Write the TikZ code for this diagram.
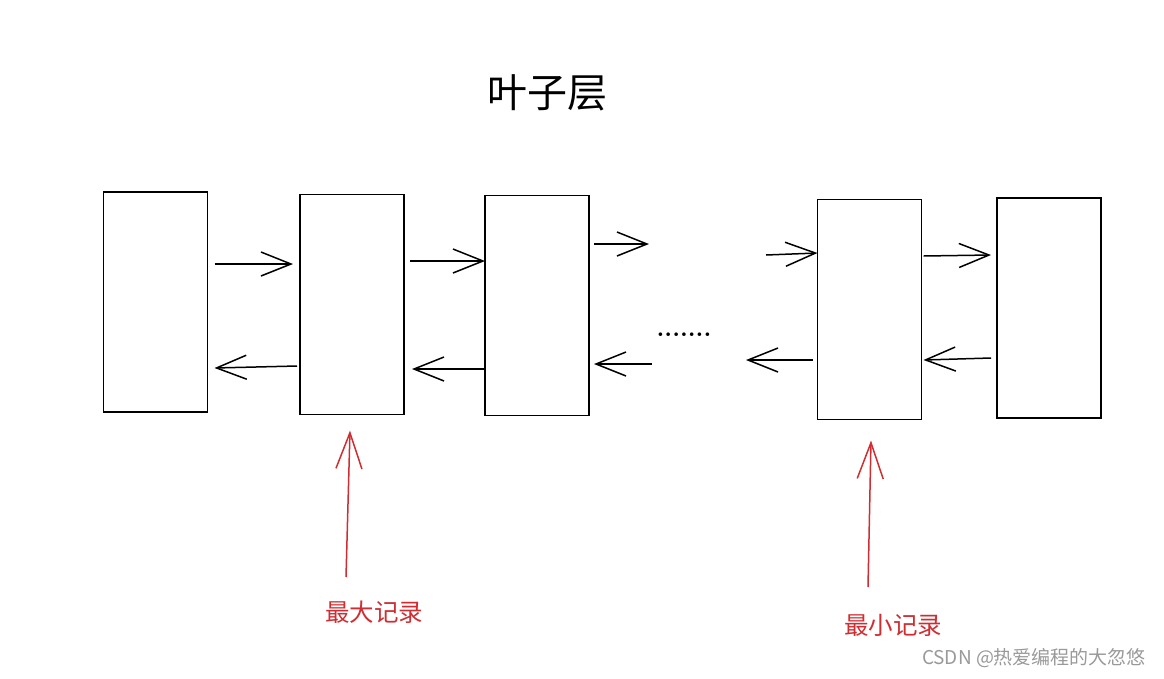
\documentclass[tikz,border=0pt]{standalone}
\usepackage{fontspec}
\newfontfamily\cjk{Noto Sans CJK SC}
\usetikzlibrary{arrows.meta}
\definecolor{notered}{RGB}{207,45,50}

\begin{document}
\begin{tikzpicture}[x=1pt, y=-1pt,
    page/.style={draw, line width=1.7pt, inner sep=0, outer sep=0, minimum width=104pt, minimum height=220pt},
    link/.style={line width=1.5pt, -{Straight Barb[length=30pt, width=24pt, line width=1.5pt]}},
    pointer/.style={draw=notered, line width=1.5pt, -{Straight Barb[length=36pt, width=26pt, line width=1.5pt]}},
    note/.style={text=notered, font=\cjk\fontsize{24.5}{28}\selectfont}]

    \useasboundingbox (0,0) rectangle (1164,678);

    \node[font=\cjk\fontsize{40}{44}\selectfont] (title) at (547,93) {叶子层};

    % leaf pages
    \node[page] (box1) at (155.5,302) {};
    \node[page] (box2) at (352,304.5) {};
    \node[page] (box3) at (537,305.5) {};
    \node[page] (box4) at (869.5,309.5) {};
    \node[page] (box5) at (1049,308) {};

    \node[anchor=base, font=\bfseries\fontsize{25}{25}\selectfont] (dots) at (684,336) {.......};

    % free ends in the gap
    \coordinate (gapR) at (649,244);
    \coordinate (gapL) at (652,364);
    \coordinate (gapR2) at (766,255);
    \coordinate (gapL2) at (746,360);

    % forward links
    \draw[link] ([xshift=7pt,yshift=38pt]box1.east) -- ([xshift=-7pt,yshift=40.5pt]box2.west);
    \draw[link] ([xshift=6pt,yshift=43.5pt]box2.east) -- ([yshift=44.5pt]box3.west);
    \draw[link] ([xshift=5pt,yshift=61.5pt]box3.east) -- (gapR);
    \draw[link] (gapR2) -- ([yshift=56.5pt]box4.west);
    \draw[link] ([xshift=2pt,yshift=53.5pt]box4.east) -- ([xshift=-6pt,yshift=53pt]box5.west);

    % backward links
    \draw[link] ([xshift=-3pt,yshift=-61.5pt]box2.west) -- ([xshift=7pt,yshift=-66pt]box1.east);
    \draw[link] ([yshift=-63.5pt]box3.west) -- ([xshift=8pt,yshift=-64.5pt]box2.east);
    \draw[link] (gapL) -- ([xshift=5pt,yshift=-58.5pt]box3.east);
    \draw[link] ([xshift=-5pt,yshift=-50.5pt]box4.west) -- (gapL2);
    \draw[link] ([xshift=-6pt,yshift=-50pt]box5.west) -- ([xshift=2pt,yshift=-50.5pt]box4.east);

    % records
    \node[note] (maxLabel) at (374,612) {最大记录};
    \node[note] (minLabel) at (893,625) {最小记录};
    \coordinate (maxTail) at (346,577);
    \coordinate (minTail) at (868,587);
    \draw[pointer] (maxTail) -- ([xshift=-2pt,yshift=-16pt]box2.south);
    \draw[pointer] (minTail) -- ([xshift=1.5pt,yshift=-21pt]box4.south);

    \node[text=black!40, font=\cjk\fontsize{19}{22}\selectfont] (credit) at (1034,658) {CSDN @热爱编程的大忽悠};
\end{tikzpicture}
\end{document}
